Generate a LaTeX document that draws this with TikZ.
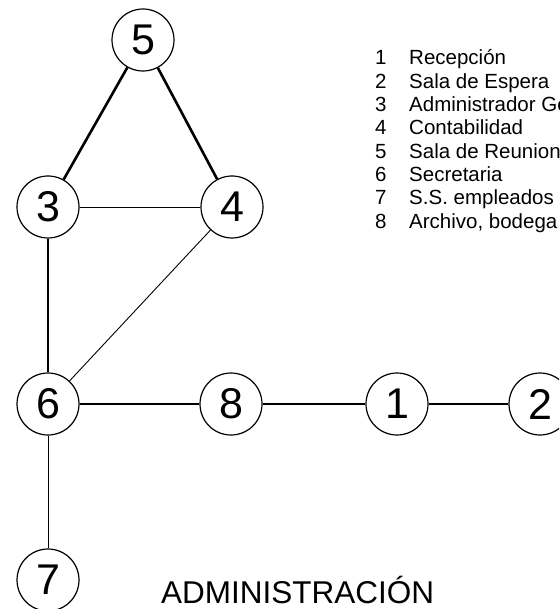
\documentclass[tikz,border=0pt]{standalone}
\usepackage{fontspec}
\setmainfont{Liberation Sans}
\begin{document}
\begin{tikzpicture}[x=1pt,y=-1pt,
  room/.style={circle,draw,line width=1.2pt,minimum size=62pt,inner sep=0pt,fill=white,font=\fontsize{43}{43}\selectfont},
  heavy/.style={line width=2.6pt},
  light/.style={line width=0.9pt},
  legnum/.style={anchor=base west,inner sep=0pt,font=\fontsize{20.5}{20.5}\selectfont},
  legtxt/.style={anchor=base west,inner sep=0pt,font=\fontsize{20.5}{20.5}\selectfont},
  title/.style={anchor=base west,inner sep=0pt,font=\fontsize{31.5}{31.5}\selectfont}]
\useasboundingbox (0,0) rectangle (559,609);
\clip (0,0) rectangle (559,609);
\fill[white] (0,0) rectangle (559,609);
% nodes
\node[room] (n5) at (143,40) {5};
\node[room] (n3) at (48,207) {3};
\node[room] (n4) at (232,207) {4};
\node[room] (n6) at (48,404) {6};
\node[room] (n8) at (231,404) {8};
\node[room] (n1) at (397,404) {1};
\node[room] (n2) at (540,404) {2};
\node[room] (n7) at (48,580) {7};
% connectors
\draw[heavy] (n5) -- (n3);
\draw[heavy] (n5) -- (n4);
\draw[light] (n3) -- (n4);
\draw[heavy] (n3) -- (n6);
\draw[light] (n4) -- (n6);
\draw[heavy] (n6) -- (n8);
\draw[heavy] (n8) -- (n1);
\draw[heavy] (n1) -- (n2);
\draw[light] (n6) -- (n7);
% legend
\foreach \k/\t [count=\i from 0] in {1/Recepción,2/Sala de Espera,3/Administrador General,4/Contabilidad,5/Sala de Reuniones,6/Secretaria,7/S.S. empleados,8/{Archivo, bodega}}{
  \node[legnum] (num\k) at (375,65+23.3*\i) {\k};
  \node[legtxt] (txt\k) at (409,65+23.3*\i) {\t};
}
% title
\node[title] (ttl) at (161,603) {ADMINISTRACIÓN};
\end{tikzpicture}
\end{document}
